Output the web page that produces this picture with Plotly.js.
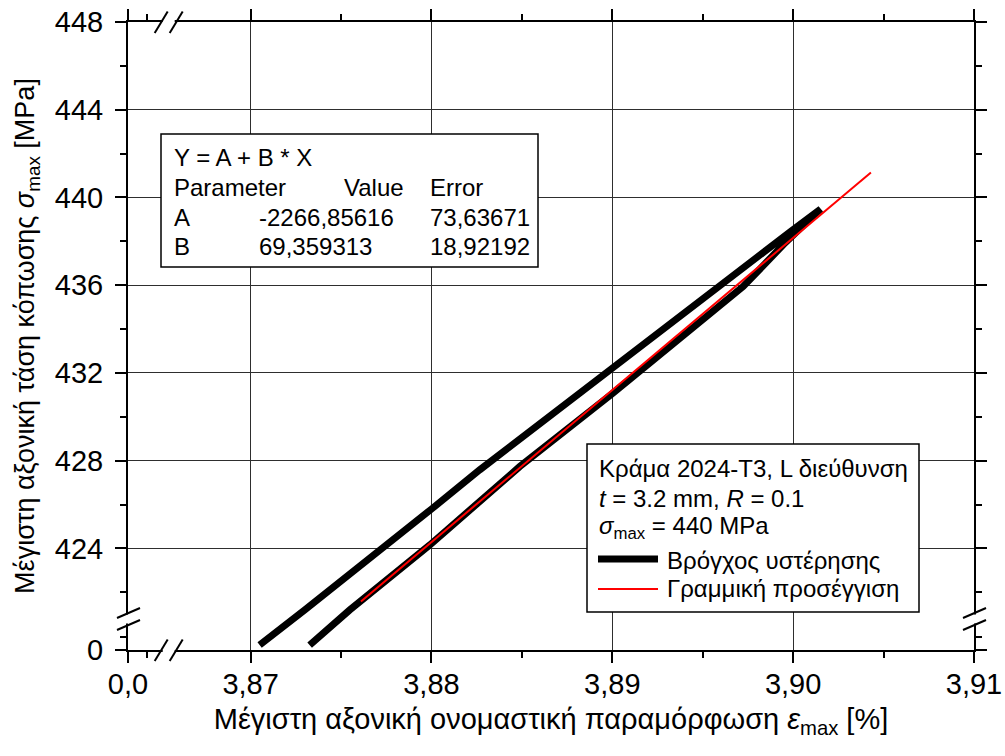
<!DOCTYPE html>
<html>
<head>
<meta charset="utf-8">
<script src="https://cdn.plot.ly/plotly-3.0.1.min.js"></script>
<style>
  html, body { margin: 0; padding: 0; background: #ffffff; }
  #chart { width: 1005px; height: 756px; }
</style>
</head>
<body>
<div id="chart"></div>
<script>
// Hysteresis loop at maximum stress: strain ε_max [%] and stress σ_max [MPa]
// (lower branch upwards to the tip, then upper branch back down)
const loopStrain = [
  3.873264, 3.875477, 3.879903, 3.884882, 3.890044, 3.894288, 3.897237, 3.899449, 3.900373, 3.901519,
  3.899820, 3.897237, 3.892811, 3.889862, 3.884882, 3.882669, 3.879997, 3.877320, 3.872988, 3.870498
];
const loopStress = [
  419.59, 421.19, 424.15, 427.73, 431.08, 433.96, 435.94, 437.84, 438.53, 439.47,
  438.42, 436.80, 434.02, 432.17, 429.05, 427.58, 425.79, 424.00, 421.19, 419.59
];

// Linear fit Y = A + B * X  (X = strain in ‰)
const fitA = -2266.85616;
const fitB = 69.359313;
const fitErrA = 73.63671;
const fitErrB = 18.92192;
const fitStrainEnds = [3.8761, 3.9043];
const fitStress = fitStrainEnds.map(e => fitA + fitB * e * 10);

// Axis ticks (both axes are broken: a short low segment and the main segment)
const xTickVals = [0, 3.87, 3.88, 3.89, 3.90, 3.91];
const xTickText = ['0,0', '3,87', '3,88', '3,89', '3,90', '3,91'];
const xMinorVals = [0.005, 3.875, 3.885, 3.895, 3.905];
const yTickVals = [0, 424, 428, 432, 436, 440, 444, 448];
const yTickText = ['0', '424', '428', '432', '436', '440', '444', '448'];
const yMinorVals = [2, 422, 426, 430, 434, 438, 442, 446];

// Legend texts
const seriesNames = ['Βρόγχος υστέρησης', 'Γραμμική προσέγγιση'];
const specimenLines = [
  'Κράμα 2024-T3, L διεύθυνση',
  '<i>t</i> = 3.2 mm, <i>R</i> = 0.1',
  '<i>σ</i><sub>max</sub> = 440 MPa'
];

// Break definitions: values below lowEnd are squeezed into lowSpan axis units
// placed just under highStart.
const xBreak = { lowEnd: 0.0113, highStart: 3.8656, lowSpan: 0.00238 };
const yBreak = { lowEnd: 4.77, highStart: 420.78, lowSpan: 1.414 };
function toAxis(v, b) {
  return v >= b.highStart ? v : b.highStart - b.lowSpan + (v / b.lowEnd) * b.lowSpan;
}

const FONT = 'Liberation Sans, Arial, Helvetica, sans-serif';
const fmt = v => String(v).replace('.', ',');
const loopStyle = { color: '#000000', width: 7 };
const fitStyle = { color: '#ff0000', width: 2 };

const traces = [
  { x: loopStrain, y: loopStress, type: 'scatter', mode: 'lines',
    name: seriesNames[0], line: loopStyle, hoverinfo: 'skip' },
  { x: fitStrainEnds, y: fitStress, type: 'scatter', mode: 'lines',
    name: seriesNames[1], line: fitStyle, hoverinfo: 'skip' }
];

const axisCommon = {
  showline: true, linecolor: '#000000', linewidth: 2, mirror: 'ticks',
  ticks: 'outside', ticklen: 11, tickwidth: 2, tickcolor: '#000000',
  showgrid: true, gridcolor: '#2e2e2e', gridwidth: 1,
  zeroline: false, tickmode: 'array',
  tickfont: { family: FONT, size: 29, color: '#000000' },
  minor: { ticks: 'outside', ticklen: 6, tickwidth: 2, tickcolor: '#000000', showgrid: false, tickmode: 'array' }
};

const xaxis = Object.assign({}, axisCommon, {
  range: [toAxis(0, xBreak), 3.91],
  tickvals: xTickVals.map(v => toAxis(v, xBreak)),
  ticktext: xTickText,
  ticklabelstandoff: -4,
  minor: Object.assign({}, axisCommon.minor, { tickvals: xMinorVals.map(v => toAxis(v, xBreak)) }),
  title: {
    text: 'Μέγιστη αξονική ονομαστική παραμόρφωση <i>ε</i><sub>max</sub> [%]',
    font: { family: FONT, size: 29, color: '#000000' },
    standoff: 10
  }
});

const yaxis = Object.assign({}, axisCommon, {
  range: [toAxis(0, yBreak), 448],
  tickvals: yTickVals.map(v => toAxis(v, yBreak)),
  ticktext: yTickText,
  ticklabelstandoff: 6,
  minor: Object.assign({}, axisCommon.minor, { tickvals: yMinorVals.map(v => toAxis(v, yBreak)) }),
  title: {
    text: 'Μέγιστη αξονική τάση κόπωσης <i>σ</i><sub>max</sub> [MPa]',
    font: { family: FONT, size: 27, color: '#000000' },
    standoff: 12
  }
});

// Break symbols: two parallel slashes with a white gap cut into the axis line
function breakMarks(axisRef, anchorAlong, side) {
  const out = [];
  const common = { type: 'line', layer: 'above', line: { color: '#000000', width: 2 } };
  if (axisRef === 'y') {
    const px = side === 'left' ? 0 : 1;
    out.push({ type: 'rect', layer: 'above', xref: 'paper', yref: 'y',
      xsizemode: 'pixel', ysizemode: 'pixel', xanchor: px, yanchor: anchorAlong,
      x0: -3, x1: 3, y0: -4.5, y1: 4.5, fillcolor: '#ffffff', line: { width: 0 } });
    [6, -6].forEach(c => out.push(Object.assign({}, common, {
      xref: 'paper', yref: 'y', xsizemode: 'pixel', ysizemode: 'pixel',
      xanchor: px, yanchor: anchorAlong,
      x0: -11, x1: 12, y0: c - 5, y1: c + 5 })));
  } else {
    const py = side === 'bottom' ? 0 : 1;
    out.push({ type: 'rect', layer: 'above', xref: 'x', yref: 'paper',
      xsizemode: 'pixel', ysizemode: 'pixel', xanchor: anchorAlong, yanchor: py,
      x0: -6, x1: 6, y0: -3, y1: 3, fillcolor: '#ffffff', line: { width: 0 } });
    [-7.5, 7.5].forEach(c => out.push(Object.assign({}, common, {
      xref: 'x', yref: 'paper', xsizemode: 'pixel', ysizemode: 'pixel',
      xanchor: anchorAlong, yanchor: py,
      x0: c - 6.5, x1: c + 6.5, y0: -11, y1: 10.5 })));
  }
  return out;
}

const yBreakAt = yBreak.highStart;
const xBreakAt = xBreak.highStart - 0.00013;

// Boxes and legend keys, positioned in pixels from the plot's top-left corner
function frame(x0, x1, y0, y1) {
  return { type: 'rect', layer: 'above', xref: 'paper', yref: 'paper',
    xsizemode: 'pixel', ysizemode: 'pixel', xanchor: 0, yanchor: 1,
    x0: x0, x1: x1, y0: -y0, y1: -y1,
    fillcolor: '#ffffff', line: { color: '#000000', width: 1.5 } };
}
function key(style, x0, x1, y) {
  return { type: 'line', layer: 'above', xref: 'paper', yref: 'paper',
    xsizemode: 'pixel', ysizemode: 'pixel', xanchor: 0, yanchor: 1,
    x0: x0, x1: x1, y0: -y, y1: -y, line: { color: style.color, width: style.width } };
}

const shapes = [
  frame(33, 410, 112, 245),
  frame(459, 791, 422, 590),
  key(loopStyle, 470, 530, 537),
  key(fitStyle, 470, 530, 567)
].concat(
  breakMarks('y', yBreakAt, 'left'),
  breakMarks('y', yBreakAt, 'right'),
  breakMarks('x', xBreakAt, 'bottom'),
  breakMarks('x', xBreakAt, 'top')
);

function label(text, dx, dy, anchor) {
  return { xref: 'paper', yref: 'paper', x: 0, y: 1, xshift: dx, yshift: -dy,
    xanchor: anchor || 'left', yanchor: 'middle', showarrow: false, text: text,
    borderpad: 0, font: { family: FONT, size: 24, color: '#000000' } };
}
const annotations = [
  // fit parameter table
  label('Y = A + B * X', 45, 135),
  label('Parameter', 45, 165),
  label('Value', 277, 165, 'right'),
  label('Error', 301, 165),
  label('A', 45, 195),
  label(fmt(fitA), 130, 195),
  label(fmt(fitErrA), 301, 195),
  label('B', 45, 224),
  label(fmt(fitB), 130, 224),
  label(fmt(fitErrB), 301, 224),
  // legend
  label(specimenLines[0], 470, 446.5),
  label(specimenLines[1], 470, 476),
  label(specimenLines[2], 470, 505),
  label(seriesNames[0], 538, 538),
  label(seriesNames[1], 538, 566.5)
];

const layout = {
  width: 1005, height: 756,
  margin: { l: 128, r: 31, t: 22, b: 106 },
  paper_bgcolor: '#ffffff', plot_bgcolor: '#ffffff',
  font: { family: FONT, color: '#000000' },
  xaxis: xaxis, yaxis: yaxis,
  showlegend: false,
  shapes: shapes,
  annotations: annotations
};

Plotly.newPlot('chart', traces, layout, { displayModeBar: false, staticPlot: true });
</script>
</body>
</html>
